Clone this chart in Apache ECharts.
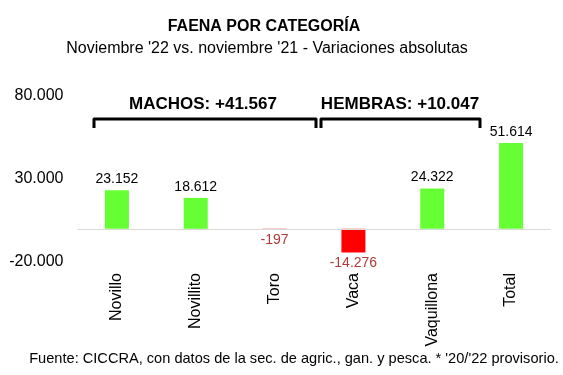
<!DOCTYPE html>
<html><head><meta charset="utf-8">
<script src="https://cdn.jsdelivr.net/npm/echarts@6/dist/echarts.min.js"></script>
<style>html,body{margin:0;padding:0;background:#fff}#c{width:563px;height:375px}</style>
</head><body><div id="c"></div>
<script>
const categories = ['Novillo','Novillito','Toro','Vaca','Vaquillona','Total'];
const values = [23152, 18612, -197, -14276, 24322, 51614];
const yTicks = [-20000, 30000, 80000];
const groupLabels = ['MACHOS: +41.567', 'HEMBRAS: +10.047'];
const titleText = 'FAENA POR CATEGORÍA';
const subtitleText = "Noviembre '22 vs. noviembre '21 - Variaciones absolutas";
const footerText = "Fuente: CICCRA, con datos de la sec. de agric., gan. y pesca. * '20/'22 provisorio.";

const F = 'Liberation Sans, Arial, sans-serif';
function fmt(v){ const s = Math.abs(v).toString().replace(/\B(?=(\d{3})+(?!\d))/g,'.'); return (v<0?'-':'')+s; }

const chart = echarts.init(document.getElementById('c'));
chart.setOption({
  animation:false,
  backgroundColor:'#fff',
  title:[
    {text:titleText, left:259, top:14, textAlign:'center', textStyle:{fontFamily:F,fontSize:16,fontWeight:'bold',color:'#000'}},
    {text:subtitleText, left:262, top:36, textAlign:'center', textStyle:{fontFamily:F,fontSize:16,fontWeight:'normal',color:'#000'}},
    {text:footerText, left:289, top:346, textAlign:'center', textStyle:{fontFamily:F,fontSize:14.6,fontWeight:'normal',color:'#000'}}
  ],
  grid:{left:77.5, right:12.5, top:96, bottom:113},
  xAxis:{type:'category', data:categories,
    axisLine:{show:false}, axisTick:{show:false},
    axisLabel:{rotate:90, margin:11, fontFamily:F, fontSize:16, color:'#000', interval:0}},
  yAxis:{type:'value', min:-20000, max:80000, interval:50000,
    splitLine:{show:false}, axisLine:{show:false}, axisTick:{show:false},
    axisLabel:{margin:14, fontFamily:F, fontSize:16, color:'#000', formatter:v=>fmt(v)}},
  series:[{
    type:'bar', barWidth:24,
    data: values.map(v=>({value:v,
      itemStyle:{color: v<0 ? '#ff0000' : '#66ff33'},
      label:{show:true, position: v<0?'bottom':'top', distance:4,
        color: v<0 ? '#b03a3a' : '#000', fontFamily:F, fontSize:14, formatter:p=>fmt(p.value)}})),
    markLine:{silent:true, symbol:'none', label:{show:false},
      lineStyle:{color:'#d9d9d9', width:1, type:'solid'}, data:[{yAxis:0}]}
  }],
  graphic:[
    {type:'polyline', shape:{points:[[94,128],[94,119],[316,119],[316,128]]}, style:{stroke:'#000', lineWidth:3, fill:null, lineJoin:'round'}},
    {type:'polyline', shape:{points:[[321,128],[321,119],[480,119],[480,128]]}, style:{stroke:'#000', lineWidth:3, fill:null, lineJoin:'round'}},
    {type:'text', x:203, y:104, style:{text:groupLabels[0], x:0, y:0, align:'center', verticalAlign:'middle', font:'bold 17px '+F, fill:'#000'}},
    {type:'text', x:400, y:104, style:{text:groupLabels[1], x:0, y:0, align:'center', verticalAlign:'middle', font:'bold 17px '+F, fill:'#000'}}
  ]
});
</script></body></html>
